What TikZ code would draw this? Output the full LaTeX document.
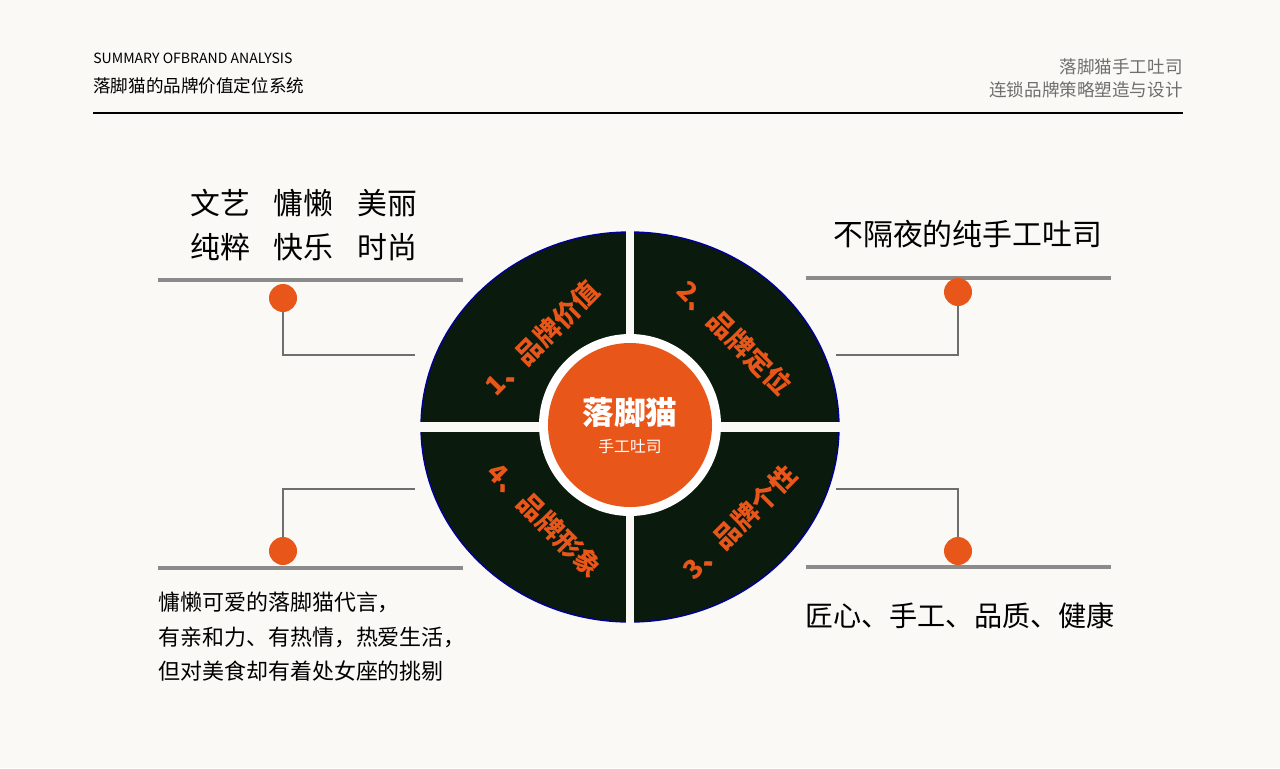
\documentclass[tikz,border=0pt]{standalone}
\usepackage{fontspec}
\setmainfont{Noto Sans CJK SC}
\newfontfamily\cjk{Noto Sans CJK SC}
\definecolor{bgpaper}{HTML}{FAF9F6}
\definecolor{catorange}{HTML}{E8561A}
\definecolor{disk}{HTML}{0A1A0C}
\definecolor{rule}{HTML}{6E6E6E}
\tikzset{
  leader/.style={draw=rule, line width=1.2pt},
  shelf/.style={draw=rule!80, line width=2.6pt},
  dot/.style={fill=catorange},
  quadlabel/.style={text=catorange, font=\cjk\bfseries\fontsize{15}{15}\selectfont},
  words/.style={anchor=west, font=\cjk\fontsize{17}{24}\selectfont, inner sep=0pt},
}
\begin{document}
\begin{tikzpicture}[x=0.02cm, y=-0.02cm]
  % paper
  \fill[bgpaper] (0,0) rectangle (1280,768);
  \useasboundingbox (0,0) rectangle (1280,768);
  % header
  \node[anchor=west, inner sep=0pt, font=\fontsize{8}{8}\selectfont] (sum) at (93,58) {SUMMARY OFBRAND ANALYSIS};
  \node[anchor=west, inner sep=0pt, font=\cjk\fontsize{10}{10}\selectfont] (title) at (93,86) {落脚猫的品牌价值定位系统};
  \node[anchor=east, inner sep=0pt, text=rule, font=\cjk\fontsize{10}{10}\selectfont] (brand) at (1183,67) {落脚猫手工吐司};
  \node[anchor=east, inner sep=0pt, text=rule, font=\cjk\fontsize{10}{10}\selectfont] (plan) at (1183,90) {连锁品牌策略塑造与设计};
  \draw[line width=0.6pt] (93,113) -- (1183,113);
  % the disk
  \fill[disk, draw=blue!60!black, line width=0.8pt] (630,427) ellipse (209 and 195);
  \draw[bgpaper, line width=5pt] (630,225) -- (630,630);
  \draw[bgpaper, line width=6pt] (415,427) -- (845,427);
  \fill[white] (630,425) circle (91);
  \fill[catorange] (630,425) circle (82);
  \node[text=white, font=\cjk\bfseries\fontsize{18}{18}\selectfont] (name) at (630,412) {落脚猫};
  \node[text=white, font=\cjk\fontsize{9}{9}\selectfont] (sub) at (630,446) {手工吐司};
  % quadrant labels
  \node[quadlabel, rotate=45] (q1) at (542,338) {1、品牌价值};
  \node[quadlabel, rotate=-45] (q2) at (735,338) {2、品牌定位};
  \node[quadlabel, rotate=45] (q3) at (740,522) {3、品牌个性};
  \node[quadlabel, rotate=-45] (q4) at (545,520) {4、品牌形象};
  % leaders, top left
  \draw[shelf] (158,280) -- (463,280);
  \draw[leader] (283,298) -- (283,355) -- (415,355);
  \fill[dot] (283,298) circle (14);
  % top right
  \draw[shelf] (806,278) -- (1111,278);
  \draw[leader] (958,292) -- (958,355) -- (836,355);
  \fill[dot] (958,292) circle (14);
  % bottom left
  \draw[shelf] (158,568) -- (463,568);
  \draw[leader] (283,551) -- (283,489) -- (415,489);
  \fill[dot] (283,551) circle (14);
  % bottom right
  \draw[shelf] (806,567) -- (1111,567);
  \draw[leader] (958,551) -- (958,489) -- (836,489);
  \fill[dot] (958,551) circle (14);
  % texts
  \node[words] (w1) at (190,203) {文艺\hspace{0.8em}慵懒\hspace{0.8em}美丽};
  \node[words] (w2) at (190,247) {纯粹\hspace{0.8em}快乐\hspace{0.8em}时尚};
  \node[words] (w3) at (833,234) {不隔夜的纯手工吐司};
  \node[words, font=\cjk\fontsize{16}{16}\selectfont] (w4) at (805,616) {匠心、手工、品质、健康};
  \node[anchor=north west, inner sep=0pt, align=left, font=\cjk\fontsize{12.5}{19.5}\selectfont] (w5) at (158,592)
    {慵懒可爱的落脚猫代言，\\有亲和力、有热情，热爱生活，\\但对美食却有着处女座的挑剔};
\end{tikzpicture}
\end{document}
